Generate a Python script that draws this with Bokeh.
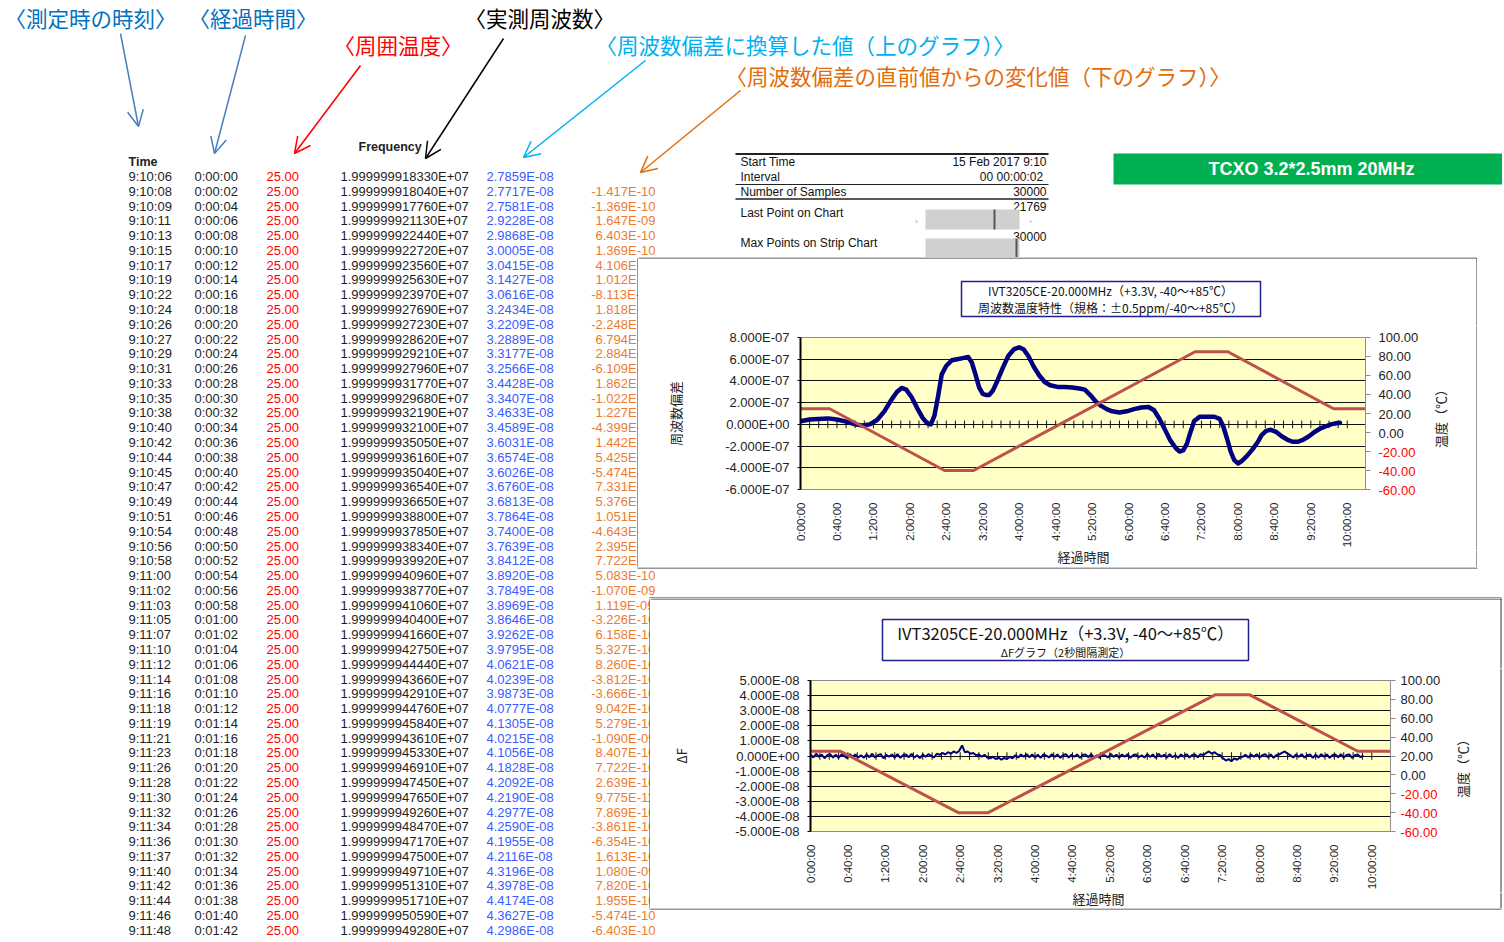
import math
from bokeh.plotting import figure
from bokeh.layouts import column, row
from bokeh.models import Range1d, LinearAxis, FixedTicker, Arrow, OpenHead
from bokeh.core.properties import value
from bokeh.embed import file_html
from bokeh.resources import INLINE

JP = "Noto Sans CJK JP"
LAT = "Liberation Sans"

# ---------------- table data ----------------
TIMES = ["9:10:06", "9:10:08", "9:10:09", "9:10:11", "9:10:13", "9:10:15", "9:10:17", "9:10:19", "9:10:22", "9:10:24",
         "9:10:26", "9:10:27", "9:10:29", "9:10:31", "9:10:33", "9:10:35", "9:10:38", "9:10:40", "9:10:42", "9:10:44",
         "9:10:45", "9:10:47", "9:10:49", "9:10:51", "9:10:54", "9:10:56", "9:10:58", "9:11:00", "9:11:02", "9:11:03",
         "9:11:05", "9:11:07", "9:11:10", "9:11:12", "9:11:14", "9:11:16", "9:11:18", "9:11:19", "9:11:21", "9:11:23",
         "9:11:26", "9:11:28", "9:11:30", "9:11:32", "9:11:34", "9:11:36", "9:11:37", "9:11:40", "9:11:42", "9:11:44",
         "9:11:46", "9:11:48"]
ELAPSED = ["0:00:00", "0:00:02", "0:00:04", "0:00:06", "0:00:08", "0:00:10", "0:00:12", "0:00:14", "0:00:16", "0:00:18",
           "0:00:20", "0:00:22", "0:00:24", "0:00:26", "0:00:28", "0:00:30", "0:00:32", "0:00:34", "0:00:36", "0:00:38",
           "0:00:40", "0:00:42", "0:00:44", "0:00:46", "0:00:48", "0:00:50", "0:00:52", "0:00:54", "0:00:56", "0:00:58",
           "0:01:00", "0:01:02", "0:01:04", "0:01:06", "0:01:08", "0:01:10", "0:01:12", "0:01:14", "0:01:16", "0:01:18",
           "0:01:20", "0:01:22", "0:01:24", "0:01:26", "0:01:28", "0:01:30", "0:01:32", "0:01:34", "0:01:36", "0:01:38",
           "0:01:40", "0:01:42"]
TEMPS = [25.00] * 52
FREQS = [1.999999918330E+07, 1.999999918040E+07, 1.999999917760E+07, 1.999999921130E+07, 1.999999922440E+07,
         1.999999922720E+07, 1.999999923560E+07, 1.999999925630E+07, 1.999999923970E+07, 1.999999927690E+07,
         1.999999927230E+07, 1.999999928620E+07, 1.999999929210E+07, 1.999999927960E+07, 1.999999931770E+07,
         1.999999929680E+07, 1.999999932190E+07, 1.999999932100E+07, 1.999999935050E+07, 1.999999936160E+07,
         1.999999935040E+07, 1.999999936540E+07, 1.999999936650E+07, 1.999999938800E+07, 1.999999937850E+07,
         1.999999938340E+07, 1.999999939920E+07, 1.999999940960E+07, 1.999999938770E+07, 1.999999941060E+07,
         1.999999940400E+07, 1.999999941660E+07, 1.999999942750E+07, 1.999999944440E+07, 1.999999943660E+07,
         1.999999942910E+07, 1.999999944760E+07, 1.999999945840E+07, 1.999999943610E+07, 1.999999945330E+07,
         1.999999946910E+07, 1.999999947450E+07, 1.999999947650E+07, 1.999999949260E+07, 1.999999948470E+07,
         1.999999947170E+07, 1.999999947500E+07, 1.999999949710E+07, 1.999999951310E+07, 1.999999951710E+07,
         1.999999950590E+07, 1.999999949280E+07]
DEVS = [2.7859E-08, 2.7717E-08, 2.7581E-08, 2.9228E-08, 2.9868E-08, 3.0005E-08, 3.0415E-08, 3.1427E-08, 3.0616E-08, 3.2434E-08,
        3.2209E-08, 3.2889E-08, 3.3177E-08, 3.2566E-08, 3.4428E-08, 3.3407E-08, 3.4633E-08, 3.4589E-08, 3.6031E-08, 3.6574E-08,
        3.6026E-08, 3.6760E-08, 3.6813E-08, 3.7864E-08, 3.7400E-08, 3.7639E-08, 3.8412E-08, 3.8920E-08, 3.7849E-08, 3.8969E-08,
        3.8646E-08, 3.9262E-08, 3.9795E-08, 4.0621E-08, 4.0239E-08, 3.9873E-08, 4.0777E-08, 4.1305E-08, 4.0215E-08, 4.1056E-08,
        4.1828E-08, 4.2092E-08, 4.2190E-08, 4.2977E-08, 4.2590E-08, 4.1955E-08, 4.2116E-08, 4.3196E-08, 4.3978E-08, 4.4174E-08,
        4.3627E-08, 4.2986E-08]
CHANGES = [None, -1.417E-10, -1.369E-10, 1.647E-09, 6.403E-10, 1.369E-10, 4.106E-10, 1.012E-09, -8.113E-10, 1.818E-09,
           -2.248E-10, 6.794E-10, 2.884E-10, -6.109E-10, 1.862E-09, -1.022E-09, 1.227E-09, -4.399E-11, 1.442E-09, 5.425E-10,
           -5.474E-10, 7.331E-10, 5.376E-11, 1.051E-09, -4.643E-10, 2.395E-10, 7.722E-10, 5.083E-10, -1.070E-09, 1.119E-09,
           -3.226E-10, 6.158E-10, 5.327E-10, 8.260E-10, -3.812E-10, -3.666E-10, 9.042E-10, 5.279E-10, -1.090E-09, 8.407E-10,
           7.722E-10, 2.639E-10, 9.775E-11, 7.869E-10, -3.861E-10, -6.354E-10, 1.613E-10, 1.080E-09, 7.820E-10, 1.955E-10,
           -5.474E-10, -6.403E-10]

# ---------------- info panel ----------------
INFO_LABELS = ["Start Time", "Interval", "Number of Samples", "Last Point on Chart", "Max Points on Strip Chart"]
INFO_VALUES = ["15 Feb 2017 9:10", "00  00:00:02", "30000", "21769", "30000"]
BADGE = "TCXO 3.2*2.5mm 20MHz"

# ---------------- annotations ----------------
ANN_TEXTS = ["〈測定時の時刻〉", "〈経過時間〉", "〈周囲温度〉", "〈実測周波数〉",
             "〈周波数偏差に換算した値（上のグラフ）〉", "〈周波数偏差の直前値からの変化値（下のグラフ）〉"]
ANN_COLORS = ["#0070C0", "#0070C0", "#FF0000", "#000000", "#00B0F0", "#E46C0A"]
ARROW_COLORS = ["#4A7EBB", "#4A7EBB", "#FF0000", "#000000", "#00B0F0", "#E46C0A"]

# ---------------- chart data ----------------
X_TICKS = [0, 40, 80, 120, 160, 200, 240, 280, 320, 360, 400, 440, 480, 520, 560, 600]
X_LABELS = ["0:00:00", "0:40:00", "1:20:00", "2:00:00", "2:40:00", "3:20:00", "4:00:00", "4:40:00",
            "5:20:00", "6:00:00", "6:40:00", "7:20:00", "8:00:00", "8:40:00", "9:20:00", "10:00:00"]
TEMP_TICKS = [-60, -40, -20, 0, 20, 40, 60, 80, 100]
TEMP_LABELS = ["-60.00", "-40.00", "-20.00", "0.00", "20.00", "40.00", "60.00", "80.00", "100.00"]

# temperature profile (elapsed minutes, deg C)
TEMP_T = [0, 32, 158, 190, 433, 469, 585, 620]
TEMP_C = [25, 25, -40, -40, 85, 85, 25, 25]

# frequency deviation (elapsed minutes, value in 1E-7)
DEV_T = [0, 10, 20, 30, 40, 50, 60, 68, 76, 84,
         92, 100, 106, 111, 116, 122, 128, 134, 139, 143,
         147, 151, 155, 160, 166, 172, 178, 184, 188, 192,
         196, 200, 204, 207, 211, 216, 222, 228, 234, 240,
         245, 250, 256, 262, 268, 274, 282, 290, 298, 306,
         312, 318, 324, 330, 336, 342, 350, 358, 366, 374,
         382, 388, 394, 400, 406, 412, 416, 420, 424, 428,
         432, 438, 446, 454, 460, 464, 468, 472, 476, 480,
         484, 490, 496, 502, 506, 511, 516, 522, 528, 534,
         540, 546, 552, 558, 564, 570, 576, 582, 588, 592]
DEV_V = [0.28, 0.45, 0.5, 0.55, 0.45, 0.25, 0.0, -0.1, 0.0, 0.4,
         1.2, 2.3, 3.0, 3.35, 3.2, 2.5, 1.5, 0.6, 0.1, 0.0,
         0.8, 2.6, 4.6, 5.4, 5.9, 6.0, 6.1, 6.2, 5.7, 4.6,
         3.4, 2.8, 2.7, 2.7, 3.1, 4.0, 5.2, 6.3, 6.9, 7.1,
         6.9, 6.3, 5.3, 4.5, 3.9, 3.6, 3.45, 3.45, 3.4, 3.3,
         3.2, 2.7, 2.1, 1.7, 1.4, 1.2, 1.1, 1.2, 1.4, 1.55,
         1.6, 1.3, 0.5, -0.5, -1.5, -2.2, -2.5, -2.4, -1.8, -0.7,
         0.3, 0.7, 0.7, 0.7, 0.5, -0.2, -1.3, -2.5, -3.3, -3.6,
         -3.4, -2.9, -2.3, -1.6, -1.0, -0.6, -0.5, -0.7, -1.1, -1.4,
         -1.6, -1.6, -1.4, -1.1, -0.7, -0.4, -0.2, 0.0, 0.1, 0.15]

# delta-F (value in 1E-8), sampled every DF_STEP minutes
DF_STEP = 3
DF_V = [0.1, -0.1, 0.15, -0.05, 0.1, -0.15, 0.05, 0.12, -0.1, 0.08,
        -0.12, 0.1, 0.02, -0.15, 0.12, -0.05, 0.1, -0.1, 0.05, -0.12,
        0.1, -0.08, 0.15, -0.1, 0.05, 0.12, -0.15, 0.08, -0.05, 0.1,
        -0.1, 0.12, -0.12, 0.06, 0.1, -0.08, 0.14, -0.1, 0.05, -0.14,
        0.1, -0.05, 0.12, 0.02, -0.1, 0.15, 0.08, 0.2, 0.1, 0.25,
        0.15, 0.3, 0.2, 0.35, 0.7, 0.25, 0.3, 0.15, 0.2, 0.05,
        0.1, -0.05, 0.08, -0.1, -0.15, -0.05, -0.2, -0.1, -0.25, -0.12,
        -0.2, -0.05, -0.15, 0.05, -0.1, 0.1, -0.05, 0.12, -0.08, 0.1,
        -0.1, 0.08, -0.12, 0.1, 0.02, -0.1, 0.12, -0.06, 0.1, -0.12,
        0.05, 0.12, -0.1, 0.08, -0.05, 0.1, -0.12, 0.06, 0.1, -0.08,
        0.12, -0.1, 0.05, -0.12, 0.1, 0.02, -0.1, 0.14, -0.06, 0.08,
        -0.1, 0.1, -0.05, 0.12, -0.12, 0.06, 0.1, -0.08, 0.05, -0.1,
        0.12, -0.06, 0.1, -0.12, 0.15, -0.05, 0.08, -0.1, 0.12, -0.08,
        0.05, -0.12, 0.1, -0.05, 0.12, -0.1, 0.06, 0.1, -0.08, 0.12,
        0.05, 0.2, 0.3, 0.15, 0.25, 0.1, 0.05, -0.15, -0.3, -0.2,
        -0.35, -0.15, -0.25, -0.1, -0.05, 0.08, -0.1, 0.1, -0.05, 0.12,
        -0.1, 0.05, 0.12, -0.08, 0.1, -0.12, 0.06, 0.1, 0.2, 0.3,
        0.15, 0.05, -0.1, 0.1, -0.06, 0.12, -0.1, 0.05, 0.1, -0.12,
        0.08, -0.1, 0.12, -0.05, 0.1, -0.12, 0.06, 0.1, -0.08, 0.12,
        -0.1, 0.06, 0.1, -0.12, 0.05, 0.1, -0.08, 0.05]
DF_T = [i * DF_STEP for i in range(len(DF_V))]

CH1_Y_TICKS = [-6, -4, -2, 0, 2, 4, 6, 8]
CH1_Y_LABELS = ["-6.000E-07", "-4.000E-07", "-2.000E-07", "0.000E+00", "2.000E-07", "4.000E-07", "6.000E-07", "8.000E-07"]
CH2_Y_TICKS = [-5, -4, -3, -2, -1, 0, 1, 2, 3, 4, 5]
CH2_Y_LABELS = ["-5.000E-08", "-4.000E-08", "-3.000E-08", "-2.000E-08", "-1.000E-08", "0.000E+00",
                "1.000E-08", "2.000E-08", "3.000E-08", "4.000E-08", "5.000E-08"]
ZERO_AXIS_TICKS = list(range(0, 601, 10))
TITLE_MAIN = "IVT3205CE-20.000MHz（+3.3V, -40～+85℃）"
TITLE1_SUB = "周波数温度特性（規格：±0.5ppm/-40～+85℃）"
TITLE2_SUB = "ΔFグラフ（2秒間隔測定）"
TEMP_AXIS_TITLE = "温度（℃）"
X_AXIS_TITLE = "経過時間"

# ---------------- layout constants (page px) ----------------
PAGE_W, PAGE_H = 1502, 940
ROW_Y0, ROW_H = 176, 14.78
ROW_Y = [ROW_Y0 + i * ROW_H for i in range(len(TIMES))]
COL_X = dict(time=128, elapsed=194, temp=266, freq=340, dev=486, change_right=655)
TFONT = 13
CW = {".": 0.278, "E": 0.667, "-": 0.333, "+": 0.584}
BOX = "#333333"
TITLE_BOX = "#1F1F8F"


def textw(s, size):
    return sum(CW.get(c, 0.556) for c in s) * size


def base_fig(x0, x1, y0, y1, yr=None):
    p = figure(width=x1 - x0, height=y1 - y0, x_range=Range1d(x0, x1),
               y_range=yr if yr is not None else Range1d(y1, y0),
               x_axis_location=None, y_axis_location=None, toolbar_location=None,
               output_backend="svg", min_border=0, outline_line_color=None,
               background_fill_color="white", border_fill_color="white", frame_align=False)
    p.grid.visible = False
    return p


def canvas(x0, x1, y0, y1):
    p = base_fig(x0, x1, y0, y1)
    idx = [i for i, y in enumerate(ROW_Y) if y0 <= y < y1]
    if idx:
        ys = [ROW_Y[i] for i in idx]
        kw = dict(text_font=value(LAT), text_font_size=f"{TFONT}px", text_baseline="middle")
        p.text(x=COL_X["time"], y=ys, text=[TIMES[i] for i in idx], text_color="#1e1e1e", **kw)
        p.text(x=COL_X["elapsed"], y=ys, text=[ELAPSED[i] for i in idx], text_color="#1e1e1e", **kw)
        p.text(x=COL_X["temp"], y=ys, text=["%.2f" % TEMPS[i] for i in idx], text_color="#FF0000", **kw)
        p.text(x=COL_X["freq"], y=ys, text=["%.12E" % FREQS[i] for i in idx], text_color="#1e1e1e", **kw)
        p.text(x=COL_X["dev"], y=ys, text=["%.4E" % DEVS[i] for i in idx], text_color="#3A5BFF", **kw)
        ci = [i for i in idx if CHANGES[i] is not None]
        cs = ["%.3E" % CHANGES[i] for i in ci]
        p.text(x=[COL_X["change_right"] - textw(s, TFONT) for s in cs], y=[ROW_Y[i] for i in ci],
               text=cs, text_color="#EE7A30", **kw)
    return p


# ---------------- page canvases ----------------
top = canvas(0, PAGE_W, 0, 257)
top.text(x=[128, 358], y=[161, 146], text=["Time", "Frequency"], text_font=value(LAT),
         text_font_size="12.5px", text_font_style="bold", text_color="#222222", text_baseline="middle")
ANN_X = [4, 188, 333, 464, 595, 725]
ANN_Y = [17, 17, 44, 17, 44, 75]
top.text(x=ANN_X, y=ANN_Y, text=ANN_TEXTS, text_color=ANN_COLORS, text_font=value(JP),
         text_font_size="21.5px", text_baseline="middle")
ARROWS = [(120, 33, 138, 126), (245, 35, 214, 153), (360, 65, 294, 153),
          (503, 38, 425, 158), (645, 60, 523, 157), (740, 90, 640, 172)]
for (xs, ys, xe, ye), c in zip(ARROWS, ARROW_COLORS):
    top.add_layout(Arrow(end=OpenHead(size=16, line_color=c, line_width=1.5),
                         x_start=xs, y_start=ys, x_end=xe, y_end=ye, line_color=c, line_width=1.5))
top.segment(x0=735, x1=1048, y0=[153.5, 184, 198.5], y1=[153.5, 184, 198.5],
            line_color="#222222", line_width=[2, 1, 1.5])
top.text(x=740, y=[161, 176, 191, 212, 242], text=INFO_LABELS, text_font=value(LAT),
         text_font_size="12px", text_color="#111111", text_baseline="middle")
top.text(x=1046, y=[161, 176, 191, 206, 236], text=INFO_VALUES, text_font=value(LAT),
         text_font_size="12px", text_color="#111111", text_baseline="middle", text_align="right")
top.quad(left=925, right=1019, top=[209, 238], bottom=[229, 258], fill_color="#D0D0D0", line_color=None)
top.segment(x0=[994, 1016], x1=[994, 1016], y0=[209, 238], y1=[229, 258], line_color="#555555", line_width=2)
top.text(x=[916, 1030], y=[221, 221], text=["‹", "›"], text_font=value(LAT), text_font_size="8px",
         text_color="#999999", text_baseline="middle", text_align="center")
top.quad(left=1113, right=1504, top=153, bottom=184, fill_color="#00B050", line_color=None)
top.text(x=1311, y=168.5, text=[BADGE], text_font=value(LAT), text_font_size="18px",
         text_font_style="bold", text_color="white", text_baseline="middle", text_align="center")

CH1_BOTTOM, CH2_BOTTOM = 567, 908
L1 = canvas(0, 638, 257, CH1_BOTTOM)
L1.segment(x0=637.5, x1=637.5, y0=257, y1=CH1_BOTTOM, line_color=BOX, line_width=1)
R1 = canvas(1477, PAGE_W, 257, CH1_BOTTOM)
C = canvas(0, PAGE_W, CH1_BOTTOM, 598)
C.segment(x0=[637, 649], x1=[1477, 1501], y0=[CH1_BOTTOM + 0.5, 597.5], y1=[CH1_BOTTOM + 0.5, 597.5],
          line_color=BOX, line_width=1)
L2 = canvas(0, 650, 598, CH2_BOTTOM)
L2.segment(x0=649.5, x1=649.5, y0=598, y1=CH2_BOTTOM, line_color=BOX, line_width=1)
E = canvas(0, PAGE_W, CH2_BOTTOM, PAGE_H)
E.segment(x0=649, x1=1501, y0=CH2_BOTTOM + 0.5, y1=CH2_BOTTOM + 0.5, line_color=BOX, line_width=1)


def title_canvas(x0, x1, y0, y1, box, lines, border_x):
    p = base_fig(x0, x1, y0, y1)
    bl, br, bt, bb = box
    p.quad(left=bl, right=br, top=bt, bottom=bb, fill_color="white", line_color=TITLE_BOX, line_width=1.5)
    for (tx, ty, txt, size) in lines:
        p.text(x=tx, y=ty, text=[txt], text_font=value(JP), text_font_size=size, text_color="#111111",
               text_align="center", text_baseline="middle")
    p.segment(x0=[x0, border_x], x1=[x1, border_x], y0=[y0 + 0.5, y0], y1=[y0 + 0.5, y1],
              line_color=BOX, line_width=1)
    return p


def xlabel_canvas(x0, x1, y0, y1, tx, ty, border_x):
    p = base_fig(x0, x1, y0, y1)
    p.text(x=tx, y=ty, text=[X_AXIS_TITLE], text_font=value(JP), text_font_size="13px", text_color="#222222",
           text_align="center", text_baseline="middle")
    p.segment(x0=border_x, x1=border_x, y0=y0, y1=y1, line_color=BOX, line_width=1)
    return p


def temp_panel(x0, x1, y0, y1, frame_top, frame_bottom, label_x, title_x, title_y, border_x):
    # vertical scale identical to the chart's temperature axis
    s = (TEMP_TICKS[-1] - TEMP_TICKS[0]) / (frame_bottom - frame_top)
    lo = TEMP_TICKS[0] - (y1 - frame_bottom) * s
    hi = TEMP_TICKS[-1] + (frame_top - y0) * s
    p = base_fig(x0, x1, y0, y1, yr=Range1d(lo, hi))
    p.text(x=label_x, y=TEMP_TICKS, text=TEMP_LABELS,
           text_color=["#FF0000" if t < 0 else "#222222" for t in TEMP_TICKS],
           text_font=value(LAT), text_font_size="13px", text_baseline="middle")
    p.text(x=title_x, y=TEMP_TICKS[-1] - (title_y - frame_top) * s, text=[TEMP_AXIS_TITLE], angle=math.pi / 2,
           text_font=value(JP), text_font_size="13px", text_color="#222222",
           text_align="center", text_baseline="middle")
    p.segment(x0=border_x, x1=border_x, y0=lo, y1=hi, line_color=BOX, line_width=1)
    return p


def make_chart(x0, x1, y0, y1, bl, br, bt, bb, y_lo, y_hi, y_ticks, y_labels, ylabel, ylab_standoff, tick_half):
    p = figure(width=x1 - x0, height=y1 - y0, x_range=Range1d(0, 620), y_range=Range1d(y_lo, y_hi),
               toolbar_location=None, output_backend="svg", frame_align=False,
               min_border_left=bl, min_border_right=br, min_border_top=bt, min_border_bottom=bb,
               background_fill_color="#FFFFC6", border_fill_color="white", outline_line_color="#8C8C8C")
    p.xgrid.visible = False
    p.ygrid.ticker = FixedTicker(ticks=y_ticks)
    p.ygrid.grid_line_color = "#111111"
    p.ygrid.grid_line_width = 1
    xa = p.xaxis[0]
    xa.ticker = FixedTicker(ticks=X_TICKS)
    xa.major_label_overrides = dict(zip(X_TICKS, X_LABELS))
    xa.major_label_orientation = math.pi / 2
    xa.major_tick_line_color = None
    xa.minor_tick_line_color = None
    xa.axis_line_color = "#8C8C8C"
    xa.major_label_text_font = LAT
    xa.major_label_text_font_size = "11.5px"
    xa.major_label_text_color = "#222222"
    xa.major_label_standoff = 7
    ya = p.yaxis[0]
    ya.ticker = FixedTicker(ticks=y_ticks)
    ya.major_label_overrides = dict(zip(y_ticks, y_labels))
    ya.axis_line_color = "black"
    ya.axis_line_width = 2
    ya.major_tick_line_color = "black"
    ya.major_tick_out = 3
    ya.major_tick_in = 0
    ya.minor_tick_line_color = None
    ya.major_label_standoff = 8
    ya.major_label_text_font = LAT
    ya.major_label_text_font_size = "13px"
    ya.major_label_text_color = "#222222"
    ya.axis_label = ylabel
    ya.axis_label_text_font = JP
    ya.axis_label_text_font_size = "13px"
    ya.axis_label_text_font_style = "normal"
    ya.axis_label_text_color = "#222222"
    ya.axis_label_standoff = ylab_standoff
    p.extra_y_ranges = {"temp": Range1d(TEMP_TICKS[0], TEMP_TICKS[-1])}
    ra = LinearAxis(y_range_name="temp", ticker=FixedTicker(ticks=TEMP_TICKS),
                    major_label_overrides={t: "" for t in TEMP_TICKS},
                    axis_line_color="#8C8C8C", major_tick_line_color="#8C8C8C", major_tick_out=5, major_tick_in=0,
                    minor_tick_line_color=None, major_label_standoff=0, major_label_text_font_size="1px")
    p.add_layout(ra, "right")
    p.segment(x0=ZERO_AXIS_TICKS, x1=ZERO_AXIS_TICKS, y0=-tick_half, y1=tick_half, line_color="#111111", line_width=1)
    return p


# ---- chart 1 block: x 638..1477, y 257..567 ; plot frame 800..1365 x 337..490
T1 = title_canvas(638, 1477, 257, 325, (961, 1260, 281, 316),
                  [(1110, 290, TITLE_MAIN, "12px"), (1110, 307, TITLE1_SUB, "12px")], 1476.5)
ch1 = make_chart(638, 1373, 325, 550, 162, 8, 12, 60, -6, 8, CH1_Y_TICKS, CH1_Y_LABELS, "周波数偏差", 37, 0.35)
ch1.line(DEV_T, DEV_V, line_color="#000080", line_width=4.5, line_join="round", line_cap="round")
ch1.line(TEMP_T, TEMP_C, y_range_name="temp", line_color="#C0504D", line_width=3)
RP1 = temp_panel(1373, 1477, 325, 550, 337, 490, 1378, 1440, 415, 1476.5)
B1 = xlabel_canvas(638, 1477, 550, CH1_BOTTOM, 1083, 556, 1476.5)
block1 = column(T1, row(ch1, RP1), B1)

# ---- chart 2 block: x 650..1502, y 598..908 ; plot frame 810..1390 x 680..832
T2 = title_canvas(650, PAGE_W, 598, 668, (882, 1248, 619, 660),
                  [(1065, 632, TITLE_MAIN, "16.5px"), (1065, 651, TITLE2_SUB, "11px")], 1500.5)
ch2 = make_chart(650, 1398, 668, 892, 160, 8, 12, 60, -5, 5, CH2_Y_TICKS, CH2_Y_LABELS, "ΔF", 41, 0.25)
ch2.line(DF_T, DF_V, line_color="#000080", line_width=2)
ch2.line(TEMP_T, TEMP_C, y_range_name="temp", line_color="#C0504D", line_width=3)
RP2 = temp_panel(1398, PAGE_W, 668, 892, 680, 832, 1400, 1462, 765, 1500.5)
B2 = xlabel_canvas(650, PAGE_W, 892, CH2_BOTTOM, 1098, 898, 1500.5)
block2 = column(T2, row(ch2, RP2), B2)

layout = column(top, row(L1, block1, R1), C, row(L2, block2), E)
open("out.html", "w").write(file_html(layout, INLINE))
